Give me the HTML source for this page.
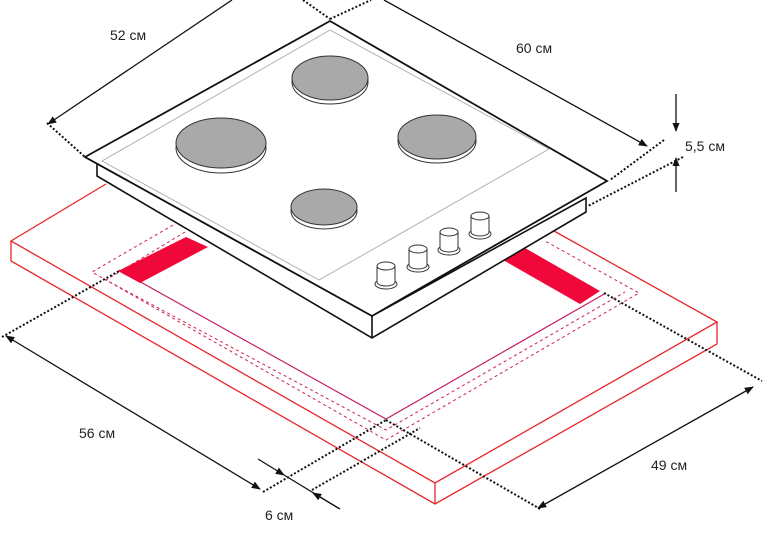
<!DOCTYPE html>
<html><head><meta charset="utf-8"><style>
html,body{margin:0;padding:0;background:#fff;}
svg{display:block;}
text{font-family:"Liberation Sans",sans-serif;font-size:14px;fill:#222;}
</style></head><body>
<svg width="767" height="551" viewBox="0 0 767 551" xmlns="http://www.w3.org/2000/svg">
<defs>
<marker id="a" viewBox="0 0 10 10" refX="9" refY="5" markerWidth="7" markerHeight="7" orient="auto-start-reverse"><path d="M0,1 L10,5 L0,9 z" fill="#111"/></marker>
</defs>
<rect width="767" height="551" fill="#fff"/>
<g fill="none" stroke="#e8262a" stroke-width="1.3">
<polyline points="106,184 11,241 435,483 717,322 554,231"/>
<polyline points="11,241 11,261 435,504 717,344 717,322"/>
<line x1="435" y1="483" x2="435" y2="504"/>
</g>
<polyline points="119,270 386,419 606,293" fill="none" stroke="#c8206a" stroke-width="1.2"/>
<g fill="none" stroke="#d0204a" stroke-width="1" stroke-dasharray="3,3">
<polyline points="173,225 92,272 386,440 639,293 545,241"/>
<polyline points="185,232 106,280 386,430 625,292"/>
</g>
<polygon points="118,271 186,237 208,247 140,283" fill="#f0083a"/>
<polygon points="503,260 525,248 600,291 580,304" fill="#f0083a"/>
<polygon points="85,157 97,163 97,176 372,338 586,212 586,198 372,316" fill="#fff" stroke="#111" stroke-width="1.6"/>
<polygon points="85,157 330,21 607,181 372,316" fill="#fff" stroke="#111" stroke-width="1.8"/>
<line x1="372" y1="316" x2="372" y2="338" stroke="#111" stroke-width="1.6"/>
<polygon points="102,161 330,30 549,149 319,280" fill="none" stroke="#aaa" stroke-width="0.9"/>
<g stroke="#333" stroke-width="1">
<ellipse cx="330" cy="82" rx="38" ry="22" fill="#fff"/>
<ellipse cx="330" cy="78" rx="38" ry="22" fill="#a9a9a9"/>
<ellipse cx="221" cy="148" rx="45" ry="25" fill="#fff"/>
<ellipse cx="221" cy="143" rx="45" ry="25" fill="#a9a9a9"/>
<ellipse cx="437" cy="141" rx="39" ry="22" fill="#fff"/>
<ellipse cx="437" cy="137" rx="39" ry="22" fill="#a9a9a9"/>
<ellipse cx="324" cy="211" rx="33" ry="18" fill="#fff"/>
<ellipse cx="324" cy="207" rx="33" ry="18" fill="#a9a9a9"/>
</g>
<g fill="#fff" stroke="#333" stroke-width="1">
<g transform="translate(386,272)"><ellipse cx="0" cy="12" rx="11" ry="5"/><path d="M-9,-6 L-9,10 A9,4 0 0 0 9,10 L9,-6"/><ellipse cx="0" cy="-6" rx="9" ry="4"/></g>
<g transform="translate(418,255)"><ellipse cx="0" cy="12" rx="11" ry="5"/><path d="M-9,-6 L-9,10 A9,4 0 0 0 9,10 L9,-6"/><ellipse cx="0" cy="-6" rx="9" ry="4"/></g>
<g transform="translate(449,238)"><ellipse cx="0" cy="12" rx="11" ry="5"/><path d="M-9,-6 L-9,10 A9,4 0 0 0 9,10 L9,-6"/><ellipse cx="0" cy="-6" rx="9" ry="4"/></g>
<g transform="translate(480,222)"><ellipse cx="0" cy="12" rx="11" ry="5"/><path d="M-9,-6 L-9,10 A9,4 0 0 0 9,10 L9,-6"/><ellipse cx="0" cy="-6" rx="9" ry="4"/></g>
</g>
<g stroke="#111" stroke-width="2" stroke-dasharray="2,2" fill="none">
<line x1="47" y1="123" x2="85" y2="157"/>
<line x1="303" y1="0" x2="330" y2="19"/>
<line x1="330" y1="19" x2="371" y2="0"/>
<line x1="664" y1="140" x2="610" y2="180"/>
<line x1="683" y1="157" x2="588" y2="206"/>
<line x1="2" y1="337" x2="119" y2="271"/>
<line x1="263" y1="492" x2="386" y2="420"/>
<line x1="312" y1="490" x2="420" y2="428"/>
<line x1="604" y1="293" x2="762" y2="381"/>
<line x1="386" y1="420" x2="542" y2="510"/>
</g>
<g stroke="#111" stroke-width="1.3" fill="none">
<line x1="48" y1="124" x2="232" y2="0" marker-start="url(#a)"/>
<line x1="384" y1="0" x2="647" y2="146" marker-end="url(#a)"/>
<line x1="676" y1="94" x2="676" y2="131" marker-end="url(#a)"/>
<line x1="676" y1="192" x2="676" y2="158" marker-end="url(#a)"/>
<line x1="6" y1="336" x2="260" y2="489" marker-start="url(#a)" marker-end="url(#a)"/>
<line x1="258" y1="459" x2="284" y2="475" marker-end="url(#a)"/>
<line x1="284" y1="475" x2="340" y2="509"/>
<line x1="340" y1="509" x2="313" y2="493" marker-end="url(#a)"/>
<line x1="538" y1="508" x2="753" y2="387" marker-start="url(#a)" marker-end="url(#a)"/>
</g>
<text x="110" y="40">52 см</text>
<text x="516" y="53">60 см</text>
<text x="685" y="151">5,5 см</text>
<text x="79" y="438">56 см</text>
<text x="265" y="520">6 см</text>
<text x="651" y="470">49 см</text>
</svg>
</body></html>
